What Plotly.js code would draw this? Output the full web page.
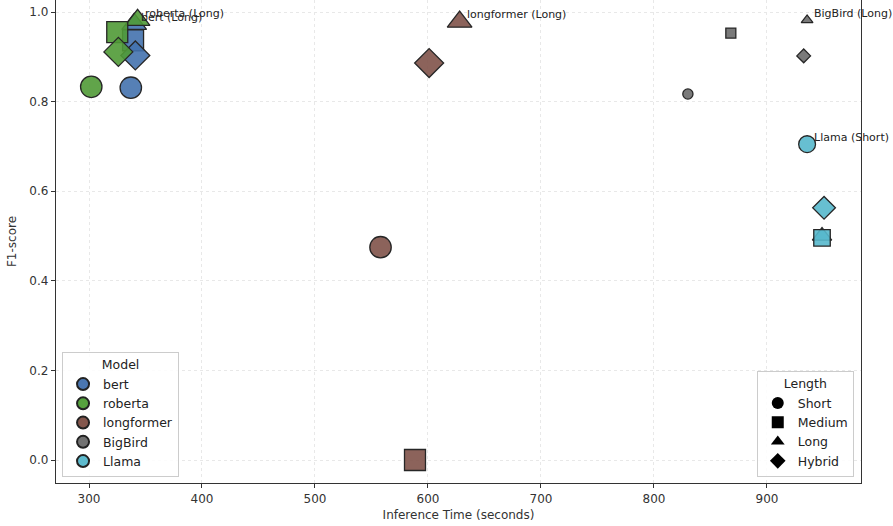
<!DOCTYPE html>
<html>
<head>
<meta charset="utf-8">
<script src="https://cdn.plot.ly/plotly-3.0.1.min.js"></script>
<style>html,body{margin:0;padding:0;background:#fff;}#chart{width:893px;height:526px;}</style>
</head>
<body>
<div id="chart"></div>
<script>
// ---- data ----
const models = ["bert", "roberta", "longformer", "BigBird", "Llama"];
const lengths = ["Short", "Medium", "Long", "Hybrid"];
// inference time (s) per model, ordered as lengths
const bertTime = [337, 339, 340, 341];
const bertF1 = [0.831, 0.937, 0.973, 0.903];
const robertaTime = [302, 325, 343, 326];
const robertaF1 = [0.833, 0.955, 0.982, 0.911];
const longformerTime = [558, 588.5, 628, 601];
const longformerF1 = [0.475, 0.0, 0.978, 0.886];
const bigbirdTime = [830, 868, 935.5, 932.5];
const bigbirdF1 = [0.817, 0.953, 0.982, 0.902];
const llamaTime = [935.5, 948.7, 948.7, 950.5];
const llamaF1 = [0.705, 0.496, 0.50, 0.563];
const labels = [["bert", "Long"], ["roberta", "Long"], ["longformer", "Long"], ["BigBird", "Long"], ["Llama", "Short"]];

// ---- styles ----
const modelColors = ["rgba(68,114,174,0.9)", "rgba(80,154,54,0.9)", "rgba(128,82,73,0.9)", "rgba(108,108,108,0.9)", "rgba(86,184,204,0.9)"];
const legendColors = ["#4a76b0", "#56a23e", "#84574d", "#727272", "#5dbacd"];
const modelSizes = [21, 21, 21, 10, 16.5];
const symbols = {Short: "circle", Medium: "square", Long: "triangle-up", Hybrid: "diamond"};
const sizeFactor = {Short: 1.02, Medium: 1.0, Long: 1.02, Hybrid: 1.06};
const drawOrder = [0, 2, 1, 3];

const times = [bertTime, robertaTime, longformerTime, bigbirdTime, llamaTime];
const f1s = [bertF1, robertaF1, longformerF1, bigbirdF1, llamaF1];

const traces = [];
models.forEach((m, mi) => {
  drawOrder.forEach(li => {
    const L = lengths[li];
    traces.push({
      type: "scatter", mode: "markers",
      x: [times[mi][li]], y: [f1s[mi][li]],
      name: m + " (" + L + ")", showlegend: false, hoverinfo: "x+y+name",
      marker: {symbol: symbols[L], size: modelSizes[mi] * sizeFactor[L],
               color: modelColors[mi], line: {color: "#262626", width: 1.3}}
    });
  });
});
// legend: Model
models.forEach((m, mi) => {
  traces.push({type: "scatter", mode: "markers", x: [null], y: [null], name: m,
    legend: "legend", showlegend: true,
    marker: {symbol: "circle", size: 11, color: legendColors[mi], line: {color: "#222", width: 1.3}}});
});
// legend: Length
lengths.forEach(L => {
  traces.push({type: "scatter", mode: "markers", x: [null], y: [null], name: L,
    legend: "legend2", showlegend: true,
    marker: {symbol: symbols[L], size: 10, color: "#000", line: {color: "#000", width: 0}}});
});

const annotations = labels.map(([m, L]) => {
  const mi = models.indexOf(m), li = lengths.indexOf(L);
  return {x: times[mi][li], y: f1s[mi][li], xref: "x", yref: "y", text: m + " (" + L + ")",
    showarrow: false, xanchor: "left", yanchor: "middle", xshift: 5, yshift: 7,
    font: {family: "DejaVu Sans", size: 11, color: "#222"}};
});

const axisCommon = {
  showline: true, linecolor: "#333", linewidth: 1.2, mirror: true,
  ticks: "outside", ticklen: 4, tickcolor: "#333", tickwidth: 1,
  showgrid: true, gridcolor: "#e8e8e8", griddash: "dot", gridwidth: 1,
  zeroline: false, tickfont: {family: "DejaVu Sans", size: 12, color: "#333"}
};

const legendCommon = {
  bgcolor: "rgba(255,255,255,0.85)", bordercolor: "#cccccc", borderwidth: 1,
  font: {family: "DejaVu Sans", size: 12.5, color: "#222"},
  yanchor: "bottom", y: 0.012, itemsizing: "constant", tracegroupgap: 0
};

const layout = {
  width: 893, height: 526,
  margin: {l: 56, r: 32, t: 0, b: 43},
  paper_bgcolor: "#fff", plot_bgcolor: "#fff",
  font: {family: "DejaVu Sans", color: "#333"},
  xaxis: Object.assign({}, axisCommon, {range: [270.8, 983.2], dtick: 100, tick0: 0,
    title: {text: "Inference Time (seconds)", font: {family: "DejaVu Sans", size: 12, color: "#333"}, standoff: 6}}),
  yaxis: Object.assign({}, axisCommon, {range: [-0.0513, 1.0268], dtick: 0.2, tick0: 0, tickformat: ".1f",
    title: {text: "F1-score", font: {family: "DejaVu Sans", size: 12, color: "#333"}, standoff: 10}}),
  legend: Object.assign({}, legendCommon, {x: 0.0075, xanchor: "left",
    title: {text: "Model", side: "top center", font: {family: "DejaVu Sans", size: 12.5, color: "#222"}}}),
  legend2: Object.assign({}, legendCommon, {x: 0.991, xanchor: "right",
    title: {text: "Length", side: "top center", font: {family: "DejaVu Sans", size: 12.5, color: "#222"}}}),
  annotations: annotations
};

Plotly.newPlot("chart", traces, layout, {displayModeBar: false, staticPlot: true});
</script>
</body>
</html>
